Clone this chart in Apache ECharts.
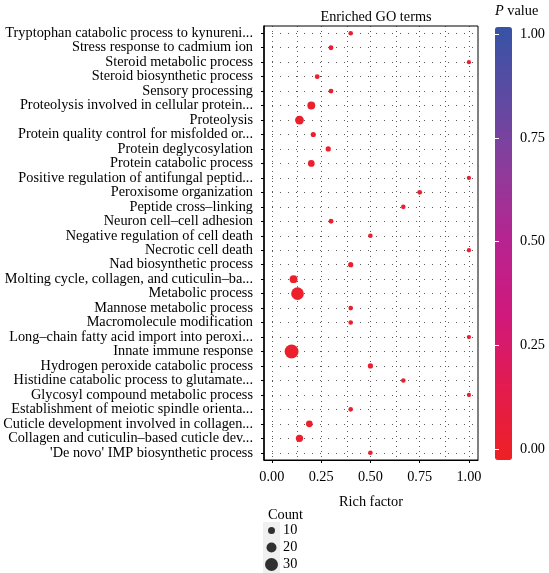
<!DOCTYPE html>
<html><head><meta charset="utf-8">
<script src="https://cdn.jsdelivr.net/npm/echarts@6/dist/echarts.min.js"></script>
<style>html,body{margin:0;padding:0;background:#fff}#c{width:549px;height:573px}</style>
</head><body><div id="c"></div>
<script>
const categories = [
  "Tryptophan catabolic process to kynureni...",
  "Stress response to cadmium ion",
  "Steroid metabolic process",
  "Steroid biosynthetic process",
  "Sensory processing",
  "Proteolysis involved in cellular protein...",
  "Proteolysis",
  "Protein quality control for misfolded or...",
  "Protein deglycosylation",
  "Protein catabolic process",
  "Positive regulation of antifungal peptid...",
  "Peroxisome organization",
  "Peptide cross\u2013linking",
  "Neuron cell\u2013cell adhesion",
  "Negative regulation of cell death",
  "Necrotic cell death",
  "Nad biosynthetic process",
  "Molting cycle, collagen, and cuticulin\u2013ba...",
  "Metabolic process",
  "Mannose metabolic process",
  "Macromolecule modification",
  "Long\u2013chain fatty acid import into peroxi...",
  "Innate immune response",
  "Hydrogen peroxide catabolic process",
  "Histidine catabolic process to glutamate...",
  "Glycosyl compound metabolic process",
  "Establishment of meiotic spindle orienta...",
  "Cuticle development involved in collagen...",
  "Collagen and cuticulin\u2013based cuticle dev...",
  "'De novo' IMP biosynthetic process"
];
const richFactor = [0.40,0.30,1.00,0.23,0.30,0.20,0.14,0.21,0.286,0.20,1.00,0.75,0.667,0.30,0.50,1.00,0.40,0.11,0.13,0.40,0.40,1.00,0.10,0.50,0.667,1.00,0.40,0.19,0.14,0.50];
const counts = [2,3,1,3,3,13,16,4,4,9,1,3,2,3,2,1,4,13,29,2,2,1,33,4,2,1,2,9,11,2];
const pValues = [0.02,0.02,0.03,0.02,0.02,0.01,0.01,0.02,0.02,0.01,0.03,0.02,0.02,0.02,0.02,0.03,0.02,0.01,0.005,0.02,0.02,0.03,0.005,0.02,0.02,0.03,0.02,0.01,0.01,0.02];
const xTicks = [0, 0.25, 0.5, 0.75, 1.0];
const xGridLines = [0, 0.125, 0.25, 0.375, 0.5, 0.625, 0.75, 0.875, 1.0];
const pTicks = [0, 0.25, 0.5, 0.75, 1.0];
const countLegend = [10, 20, 30];

const FONT = "Liberation Serif";
const FS = 14.3;
const sizeOf = c => 4 + 0.3 * c;
const vDotted = {color: '#222', width: 1, type: [1, 4], opacity: 0.75};
const hDotted = {color: '#222', width: 1, type: [1, 7], opacity: 0.75};

const chart = echarts.init(document.getElementById('c'), null, {renderer: 'canvas'});
chart.setOption({
  animation: false,
  textStyle: {fontFamily: FONT, color: '#000'},
  title: [
    {text: 'Enriched GO terms', left: 371, top: 5, textAlign: 'center',
     textStyle: {fontFamily: FONT, fontSize: FS, fontWeight: 'normal', color: '#000'}},
    {text: '{i|P} value', left: 490, top: -1,
     textStyle: {fontFamily: FONT, fontSize: FS, fontWeight: 'normal', color: '#000',
       rich: {i: {fontFamily: FONT, fontSize: FS, fontStyle: 'italic', color: '#000'}}}},
    {text: 'Count', left: 263, top: 503,
     textStyle: {fontFamily: FONT, fontSize: FS, fontWeight: 'normal', color: '#000'}}
  ],
  grid: [
    {left: 264, top: 26, width: 214, height: 434, show: true, borderColor: '#000', borderWidth: 1, backgroundColor: 'transparent'},
    {left: 495, top: 34, width: 17, height: 415, show: false},
    {left: 263, top: 522, width: 17, height: 51, show: true, backgroundColor: '#f0f0f0', borderWidth: 0}
  ],
  xAxis: [
    {type: 'value', gridIndex: 0, min: -0.04, max: 1.046,
     axisLine: {show: true, onZero: false, lineStyle: {color: '#000', width: 1}},
     axisTick: {show: true, length: 3, customValues: xTicks, lineStyle: {color: '#000'}},
     axisLabel: {customValues: xTicks, formatter: v => v.toFixed(2), fontFamily: FONT, fontSize: FS, color: '#000', margin: 10},
     splitLine: {show: false},
     name: 'Rich factor', nameLocation: 'middle', nameGap: 35,
     nameTextStyle: {fontFamily: FONT, fontSize: FS, color: '#000'}},
    {type: 'value', gridIndex: 1, show: false, min: 0, max: 1},
    {type: 'value', gridIndex: 2, show: false, min: -1, max: 1}
  ],
  yAxis: [
    {type: 'category', gridIndex: 0, data: categories, inverse: true,
     axisLine: {show: true, onZero: false, lineStyle: {color: '#000', width: 1.5}},
     axisTick: {show: true, alignWithLabel: true, interval: 0, length: 3, lineStyle: {color: '#000'}},
     axisLabel: {interval: 0, fontFamily: FONT, fontSize: FS, color: '#000', margin: 11},
     splitLine: {show: false}},
    {type: 'value', gridIndex: 1, min: 0, max: 1, interval: 0.25, position: 'right', z: 10,
     axisLine: {show: false},
     axisTick: {show: true, inside: true, length: 4, lineStyle: {color: '#fff', width: 1}},
     axisLabel: {formatter: v => v.toFixed(2), fontFamily: FONT, fontSize: FS, color: '#000', margin: 8},
     splitLine: {show: false}},
    {type: 'value', gridIndex: 1, min: 0, max: 1, interval: 0.25, position: 'left', z: 10,
     axisLine: {show: false},
     axisTick: {show: true, inside: true, length: 4, lineStyle: {color: '#fff', width: 1}},
     axisLabel: {show: false}, splitLine: {show: false}},
    {type: 'category', gridIndex: 2, data: countLegend.map(String), inverse: true, position: 'right',
     axisLine: {show: false}, axisTick: {show: false},
     axisLabel: {interval: 0, fontFamily: FONT, fontSize: FS, color: '#000', margin: 3}}
  ],
  visualMap: {
    type: 'continuous', seriesIndex: 0, dimension: 3,
    min: -0.0265, max: 1.0169, calculable: false, realtime: false,
    left: 480, top: 12, itemWidth: 17, itemHeight: 433, z: 2,
    text: null, showLabel: false, hoverLink: false,
    inRange: {color: ['#ee2024', '#e31b4f', '#d0197c', '#b8238f', '#8f3b9b', '#5f4aa2', '#3753a5']}
  },
  series: [
    {type: 'scatter', xAxisIndex: 0, yAxisIndex: 0, z: 5,
     data: categories.map((c, i) => [richFactor[i], c, counts[i], pValues[i]]),
     symbolSize: d => sizeOf(d[2]),
     itemStyle: {opacity: 1},
     markLine: {silent: true, symbol: 'none', label: {show: false}, z: 1,
       data: xGridLines.map(v => ({xAxis: v, lineStyle: vDotted}))
         .concat(categories.map(c => ({yAxis: c, lineStyle: hDotted})))}},
    {type: 'scatter', xAxisIndex: 2, yAxisIndex: 3,
     data: countLegend.map(c => [0, String(c), c]),
     symbolSize: d => sizeOf(d[2]),
     itemStyle: {color: '#000'}}
  ]
});
</script></body></html>
